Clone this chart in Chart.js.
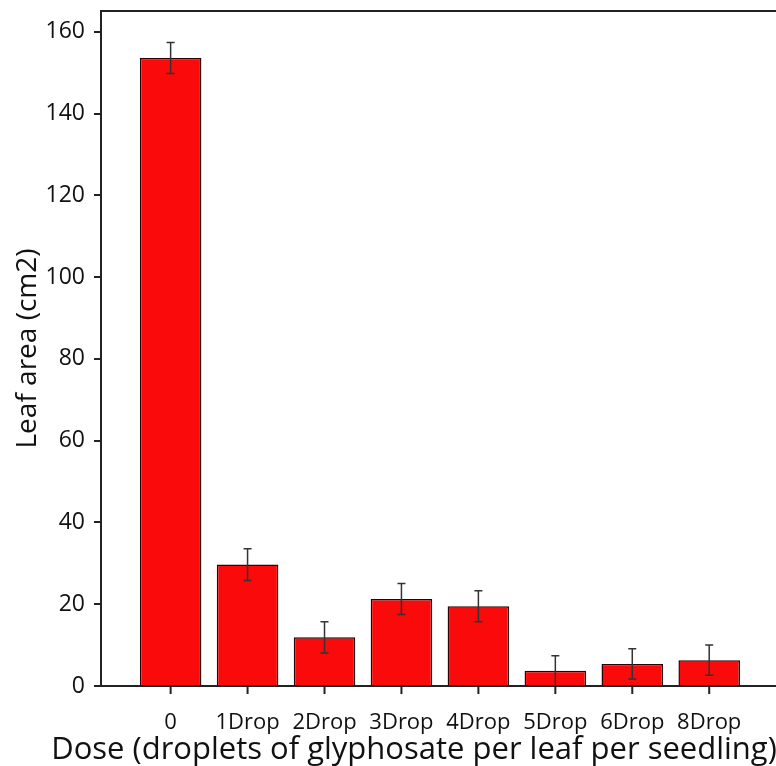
<!DOCTYPE html>
<html><head><meta charset="utf-8">
<script src="https://cdn.jsdelivr.net/npm/chart.js@4/dist/chart.umd.min.js"></script>
<style>html,body{margin:0;padding:0;background:#fff;overflow:hidden;}#wrap{width:780px;height:766px;}</style>
</head><body><div id="wrap"><canvas id="c"></canvas></div>
<script>
const categories = ["0","1Drop","2Drop","3Drop","4Drop","5Drop","6Drop","8Drop"];
const leafArea = [153.6, 29.7, 11.9, 21.3, 19.5, 3.7, 5.4, 6.3];
const errors = [3.8, 3.9, 3.8, 3.8, 3.8, 3.7, 3.7, 3.7];
const yTicks = [0,20,40,60,80,100,120,140,160];
const xTitle = "Dose (droplets of glyphosate per leaf per seedling)";
const yTitle = "Leaf area (cm2)";
const font = "'Open Sans', sans-serif";

const errPlugin = {
  id:'err',
  afterDatasetsDraw(chart){
    const {ctx, scales:{x,y}, chartArea} = chart;
    ctx.save();
    ctx.strokeStyle='#333'; ctx.lineWidth=1.5;
    leafArea.forEach((v,i)=>{
      const px=x.getPixelForValue(i);
      const top=y.getPixelForValue(v+errors[i]);
      const bot=y.getPixelForValue(Math.max(0,v-errors[i]));
      ctx.beginPath();
      ctx.moveTo(px,top); ctx.lineTo(px,bot);
      ctx.moveTo(px-4,top); ctx.lineTo(px+4,top);
      if(v-errors[i]>0){ctx.moveTo(px-4,bot); ctx.lineTo(px+4,bot);}
      ctx.stroke();
    });
    // top frame line and x tick marks
    ctx.strokeStyle='#222'; ctx.lineWidth=2;
    ctx.beginPath();
    ctx.moveTo(chartArea.left-1, chartArea.top); ctx.lineTo(chartArea.right, chartArea.top);
    categories.forEach((c,i)=>{
      const px=x.getPixelForValue(i);
      ctx.moveTo(px, chartArea.bottom); ctx.lineTo(px, chartArea.bottom+8);
    });
    ctx.stroke();
    // x axis title
    ctx.fillStyle='#111';
    ctx.font = "31px " + font;
    ctx.textAlign='center'; ctx.textBaseline='alphabetic';
    ctx.fillText(xTitle, 414, 759);
    ctx.restore();
  }
};
new Chart(document.getElementById('c'),{
  type:'bar',
  data:{datasets:[{
    data: leafArea.map((v,i)=>({x:i,y:v})),
    backgroundColor:'#fa0a0a', borderColor:'#2a0000', borderWidth:1.5,
    barPercentage:0.8, categoryPercentage:1
  }]},
  options:{
    responsive:true, maintainAspectRatio:false, animation:false,
    layout:{padding:{top:11,left:0,right:0,bottom:0}},
    plugins:{legend:{display:false},tooltip:{enabled:false}},
    scales:{
      x:{type:'linear', min:-0.905, max:7.92, position:'bottom', offset:false,
        afterBuildTicks(s){s.ticks=categories.map((c,i)=>({value:i}));},
        afterFit(s){s.height=80; s.paddingLeft=0; s.paddingRight=0;},
        ticks:{callback:(v)=>categories[v], color:'#111', font:{family:font,size:22}, padding:24, autoSkip:false, maxRotation:0},
        grid:{offset:false, drawOnChartArea:false, drawTicks:false, tickLength:0, color:'#222', lineWidth:2},
        border:{color:'#222', width:2},
        title:{display:false}
      },
      y:{min:0, max:165.1,
        afterBuildTicks(s){s.ticks=yTicks.map(v=>({value:v}));},
        afterFit(s){s.width=101; s.paddingTop=0; s.paddingBottom=0;},
        ticks:{color:'#111', font:{family:font,size:23}, padding:9},
        grid:{drawOnChartArea:false, drawTicks:true, tickLength:7, color:'#222', lineWidth:2},
        border:{color:'#222', width:2},
        title:{display:true, text:yTitle, color:'#111', font:{family:font,size:28}, padding:{top:11,bottom:0}}
      }
    }
  },
  plugins:[errPlugin]
});
</script></body></html>
